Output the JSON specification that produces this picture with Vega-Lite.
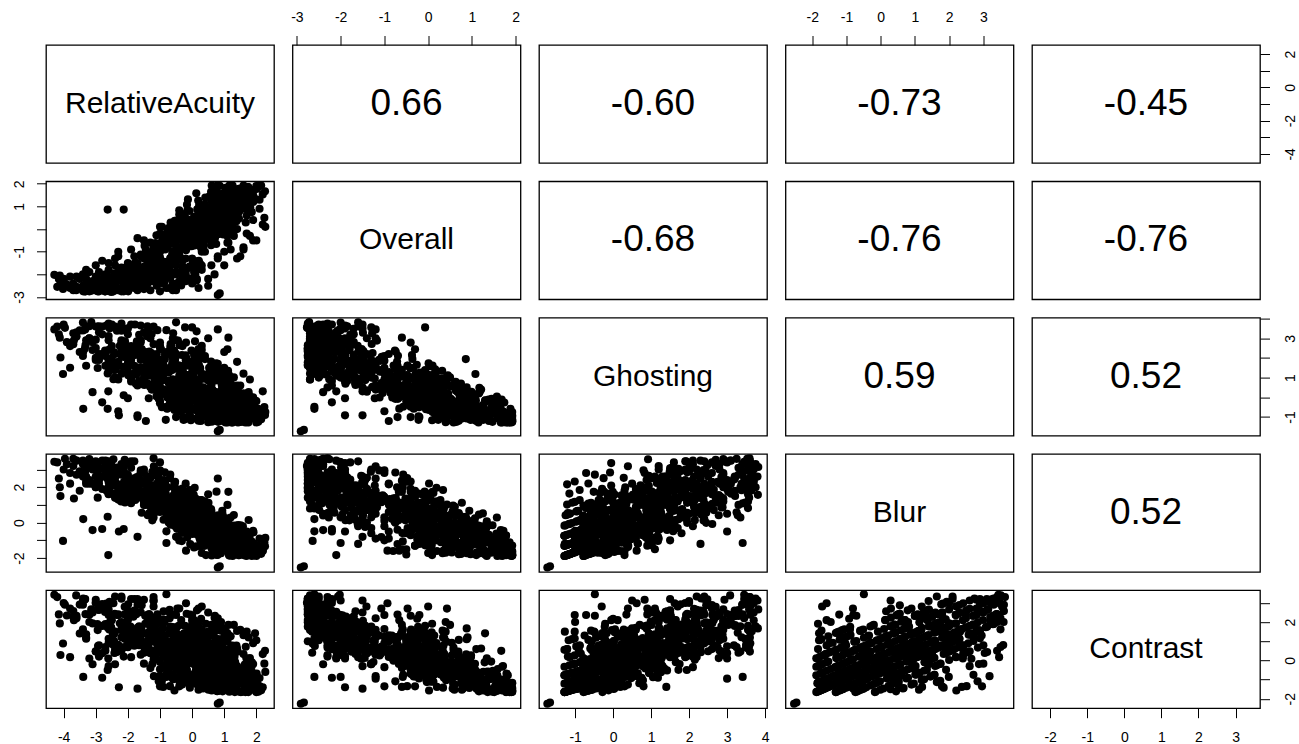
{
"$schema": "https://vega.github.io/schema/vega-lite/v6.json",
"padding": {"left": 11, "top": 9, "right": 5, "bottom": 5},
"background": "white",
"config": {
 "view": {"stroke": "#000", "strokeWidth": 1.3},
 "font": "Liberation Sans",
 "axis": {"grid": false, "domain": false, "tickSize": 9.5, "tickColor": "#000", "tickWidth": 1, "labelFont": "Liberation Sans", "labelFontSize": 14, "labelColor": "#000", "labelOverlap": false, "labelFlush": false}
},
"datasets": {
"pts": [
{"A":2.0,"O":1.9,"G":-1.28,"B":-1.88,"C":-1.65},
{"A":1.26,"O":1.85,"G":-1.17,"B":-1.8,"C":-1.59},
{"A":1.63,"O":1.59,"G":-1.07,"B":-1.72,"C":-1.53},
{"A":0.86,"O":1.91,"G":-0.95,"B":-1.63,"C":-1.46},
{"A":1.9,"O":1.2,"G":-0.81,"B":-1.53,"C":-1.38},
{"A":1.14,"O":1.65,"G":-0.61,"B":-1.38,"C":-1.26},
{"A":1.81,"O":0.95,"G":-0.35,"B":-1.18,"C":-1.11},
{"A":0.54,"O":1.45,"G":-0.08,"B":-0.98,"C":-0.96},
{"A":1.02,"O":0.65,"G":0.32,"B":-0.68,"C":-0.73},
{"A":1.45,"O":1.78,"G":-1.23,"B":-1.84,"C":-1.62},
{"A":2.15,"O":1.92,"G":-1.12,"B":-1.76,"C":-1.56},
{"A":0.73,"O":0.15,"G":0.85,"B":-0.28,"C":-0.42},
{"A":1.75,"O":1.86,"G":-1.28,"B":-1.31,"C":-1.65},
{"A":0.61,"O":1.26,"G":-1.15,"B":-1.21,"C":-1.57},
{"A":1.73,"O":1.86,"G":-1.01,"B":-1.11,"C":-1.5},
{"A":0.82,"O":1.56,"G":-0.75,"B":-0.91,"C":-1.34},
{"A":1.29,"O":0.86,"G":-0.48,"B":-0.71,"C":-1.19},
{"A":-0.13,"O":1.31,"G":-0.15,"B":-0.46,"C":-1.0},
{"A":1.06,"O":0.46,"G":0.18,"B":-0.21,"C":-0.8},
{"A":1.6,"O":1.92,"G":-1.21,"B":-1.83,"C":-1.17},
{"A":1.61,"O":1.18,"G":-1.08,"B":-1.73,"C":-1.09},
{"A":0.66,"O":1.63,"G":-0.88,"B":-1.58,"C":-0.98},
{"A":1.77,"O":1.18,"G":-0.55,"B":-1.33,"C":-0.79},
{"A":0.77,"O":1.33,"G":-0.22,"B":-1.08,"C":-0.59},
{"A":0.82,"O":0.38,"G":0.12,"B":-0.83,"C":-0.4},
{"A":-0.31,"O":0.63,"G":0.58,"B":-0.48,"C":-0.13},
{"A":1.71,"O":1.61,"G":-0.78,"B":-1.31,"C":-1.21},
{"A":0.86,"O":0.99,"G":-0.62,"B":-1.19,"C":-1.12},
{"A":1.85,"O":1.56,"G":-0.45,"B":-1.06,"C":-1.02},
{"A":0.23,"O":0.56,"G":-0.18,"B":-0.86,"C":-0.86},
{"A":0.91,"O":0.71,"G":0.15,"B":-0.61,"C":-0.67},
{"A":-0.23,"O":0.51,"G":0.55,"B":-0.31,"C":-0.44},
{"A":0.45,"O":-0.29,"G":0.95,"B":-0.01,"C":-0.21},
{"A":1.43,"O":1.66,"G":-1.28,"B":-0.74,"C":-1.21},
{"A":1.5,"O":1.06,"G":-1.15,"B":-0.64,"C":-1.13},
{"A":0.19,"O":1.26,"G":-1.01,"B":-0.54,"C":-1.06},
{"A":0.98,"O":0.51,"G":-0.81,"B":-0.39,"C":-0.94},
{"A":0.41,"O":1.01,"G":-0.55,"B":-0.19,"C":-0.79},
{"A":0.76,"O":0.36,"G":-0.22,"B":0.06,"C":-0.59},
{"A":-0.32,"O":0.36,"G":0.18,"B":0.36,"C":-0.36},
{"A":1.3,"O":1.11,"G":-0.78,"B":-0.74,"C":-0.77},
{"A":0.16,"O":0.43,"G":-0.67,"B":-0.66,"C":-0.71},
{"A":0.98,"O":1.11,"G":-0.51,"B":-0.54,"C":-0.62},
{"A":1.02,"O":0.31,"G":-0.25,"B":-0.34,"C":-0.46},
{"A":-0.51,"O":0.36,"G":0.08,"B":-0.09,"C":-0.27},
{"A":0.24,"O":-0.29,"G":0.42,"B":0.16,"C":-0.08},
{"A":-0.53,"O":-0.14,"G":0.88,"B":0.51,"C":0.19},
{"A":1.23,"O":1.15,"G":-1.28,"B":-0.17,"C":-0.77},
{"A":0.11,"O":0.4,"G":-1.08,"B":-0.02,"C":-0.65},
{"A":1.12,"O":1.05,"G":-0.88,"B":0.13,"C":-0.54},
{"A":0.42,"O":0.15,"G":-0.61,"B":0.33,"C":-0.38},
{"A":-0.62,"O":0.2,"G":-0.28,"B":0.58,"C":-0.19},
{"A":0.0,"O":-0.55,"G":0.05,"B":0.83,"C":0.0},
{"A":1.04,"O":1.82,"G":-1.28,"B":-1.31,"C":-0.77},
{"A":1.67,"O":1.12,"G":-1.15,"B":-1.21,"C":-0.69},
{"A":1.05,"O":1.37,"G":-0.95,"B":-1.06,"C":-0.58},
{"A":1.46,"O":0.47,"G":-0.68,"B":-0.86,"C":-0.42},
{"A":0.16,"O":0.87,"G":-0.42,"B":-0.66,"C":-0.27},
{"A":0.7,"O":0.52,"G":-0.08,"B":-0.41,"C":-0.08},
{"A":1.86,"O":1.58,"G":-0.78,"B":-1.88,"C":-0.77},
{"A":0.88,"O":0.93,"G":-0.58,"B":-1.73,"C":-0.65},
{"A":1.85,"O":1.48,"G":-0.38,"B":-1.58,"C":-0.54},
{"A":0.28,"O":0.73,"G":-0.05,"B":-1.33,"C":-0.35},
{"A":1.16,"O":0.63,"G":0.35,"B":-1.03,"C":-0.12},
{"A":0.34,"O":0.89,"G":-0.78,"B":-0.74,"C":-0.33},
{"A":1.18,"O":0.27,"G":-0.62,"B":-0.62,"C":-0.24},
{"A":0.44,"O":0.79,"G":-0.38,"B":-0.44,"C":-0.1},
{"A":0.57,"O":-0.01,"G":-0.11,"B":-0.24,"C":0.06},
{"A":-0.57,"O":0.04,"G":0.22,"B":0.01,"C":0.25},
{"A":0.14,"O":-0.66,"G":0.62,"B":0.31,"C":0.48},
{"A":-0.93,"O":-0.51,"G":1.08,"B":0.66,"C":0.75},
{"A":0.9,"O":0.48,"G":-0.28,"B":-0.17,"C":-0.33},
{"A":-0.2,"O":-0.32,"G":-0.15,"B":-0.07,"C":-0.25},
{"A":0.71,"O":0.03,"G":0.05,"B":0.08,"C":-0.14},
{"A":-0.59,"O":-0.57,"G":0.32,"B":0.28,"C":0.02},
{"A":-0.03,"O":-0.52,"G":0.65,"B":0.53,"C":0.21},
{"A":-1.14,"O":-0.62,"G":1.05,"B":0.83,"C":0.44},
{"A":-0.62,"O":-1.52,"G":1.72,"B":1.33,"C":0.83},
{"A":0.56,"O":0.32,"G":-0.78,"B":0.4,"C":-0.33},
{"A":0.07,"O":-0.33,"G":-0.58,"B":0.55,"C":-0.21},
{"A":-0.63,"O":0.07,"G":-0.31,"B":0.75,"C":-0.06},
{"A":-0.14,"O":-0.48,"G":0.02,"B":1.0,"C":0.13},
{"A":-0.41,"O":-1.08,"G":0.42,"B":1.3,"C":0.36},
{"A":0.26,"O":-0.12,"G":-0.28,"B":0.4,"C":0.11},
{"A":-0.77,"O":-0.82,"G":-0.01,"B":0.6,"C":0.26},
{"A":0.13,"O":-0.67,"G":0.32,"B":0.85,"C":0.46},
{"A":-1.08,"O":-1.07,"G":0.72,"B":1.15,"C":0.69},
{"A":-1.02,"O":-1.82,"G":1.18,"B":1.5,"C":0.96},
{"A":-1.92,"O":-1.82,"G":1.85,"B":2.0,"C":1.34},
{"A":0.15,"O":-0.31,"G":-0.28,"B":0.97,"C":0.11},
{"A":-0.51,"O":-1.11,"G":-0.01,"B":1.17,"C":0.26},
{"A":-1.26,"O":-1.01,"G":0.39,"B":1.47,"C":0.5},
{"A":-0.97,"O":-1.66,"G":0.85,"B":1.82,"C":0.76},
{"A":-0.18,"O":-0.86,"G":0.22,"B":0.97,"C":0.55},
{"A":-1.49,"O":-1.66,"G":0.62,"B":1.27,"C":0.78},
{"A":-0.92,"O":-1.46,"G":1.02,"B":1.57,"C":1.01},
{"A":-2.15,"O":-2.06,"G":1.55,"B":1.97,"C":1.32},
{"A":-1.58,"O":-2.36,"G":2.08,"B":2.37,"C":1.63},
{"A":-0.58,"O":-1.04,"G":0.22,"B":1.54,"C":0.55},
{"A":-1.75,"O":-1.89,"G":0.69,"B":1.89,"C":0.82},
{"A":-1.08,"O":-1.94,"G":1.15,"B":2.24,"C":1.09},
{"A":-2.47,"O":-2.44,"G":1.68,"B":2.64,"C":1.4},
{"A":-1.4,"O":-1.58,"G":0.72,"B":1.54,"C":0.99},
{"A":-1.09,"O":-2.08,"G":1.25,"B":1.94,"C":1.3},
{"A":-2.58,"O":-2.58,"G":1.78,"B":2.34,"C":1.61},
{"A":-2.55,"O":-2.75,"G":2.45,"B":2.84,"C":1.99},
{"A":-1.19,"O":-1.67,"G":0.72,"B":2.11,"C":0.99},
{"A":-2.43,"O":-2.47,"G":1.39,"B":2.61,"C":1.38},
{"A":-2.13,"O":-2.75,"G":2.05,"B":3.11,"C":1.76},
{"A":-2.94,"O":-2.7,"G":1.49,"B":2.88,"C":1.58},
{"A":-2.95,"O":-2.6,"G":2.02,"B":3.28,"C":1.89},
{"A":0.6,"O":0.45,"G":1.11,"B":-0.08,"C":-0.26},
{"A":-0.29,"O":-0.07,"G":1.38,"B":0.12,"C":0.33},
{"A":-0.32,"O":-0.37,"G":2.15,"B":0.89,"C":0.04},
{"A":-1.36,"O":-1.06,"G":2.05,"B":1.19,"C":0.72},
{"A":-0.44,"O":-1.17,"G":2.88,"B":0.87,"C":1.35},
{"A":-2.02,"O":-1.96,"G":2.58,"B":2.16,"C":1.46},
{"A":-1.0,"O":-1.73,"G":2.78,"B":1.56,"C":1.44},
{"A":-2.09,"O":-1.71,"G":3.48,"B":1.14,"C":1.12},
{"A":-1.65,"O":-1.78,"G":3.18,"B":2.43,"C":0.79},
{"A":-1.92,"O":-1.98,"G":2.08,"B":1.41,"C":1.77},
{"A":-0.02,"O":-0.76,"G":2.38,"B":0.12,"C":1.21},
{"A":-2.12,"O":-2.01,"G":2.75,"B":2.3,"C":0.69},
{"A":-2.6,"O":-2.51,"G":3.11,"B":1.63,"C":1.94},
{"A":-2.94,"O":-2.75,"G":3.58,"B":1.41,"C":2.65},
{"A":-2.71,"O":-2.75,"G":2.38,"B":2.97,"C":2.53},
{"A":-3.34,"O":-2.75,"G":2.48,"B":3.24,"C":3.18},
{"A":-3.61,"O":-2.7,"G":3.08,"B":3.51,"C":3.39},
{"A":-3.14,"O":-2.72,"G":3.82,"B":3.14,"C":2.66},
{"A":-4.29,"O":-2.02,"G":3.45,"B":3.44,"C":3.42},
{"A":-3.96,"O":-2.4,"G":3.53,"B":3.6,"C":2.9},
{"A":-4.15,"O":-2.2,"G":3.2,"B":2.49,"C":2.4},
{"A":-4.12,"O":-2.05,"G":3.03,"B":2.0,"C":1.93},
{"A":-4.1,"O":-2.3,"G":2.02,"B":1.5,"C":0.28},
{"A":-4.02,"O":-2.64,"G":1.18,"B":-1.03,"C":0.88},
{"A":-3.68,"O":-2.5,"G":2.9,"B":1.36,"C":2.1},
{"A":-3.33,"O":-2.7,"G":3.45,"B":2.9,"C":3.2},
{"A":-3.39,"O":-2.6,"G":-0.59,"B":0.2,"C":-0.86},
{"A":-3.1,"O":-2.4,"G":0.26,"B":-0.42,"C":-0.2},
{"A":-2.8,"O":-2.2,"G":-0.26,"B":-0.36,"C":-0.9},
{"A":-2.61,"O":-2.1,"G":0.3,"B":-1.83,"C":0.1},
{"A":-2.28,"O":-1.9,"G":-0.92,"B":-0.5,"C":-1.4},
{"A":-1.7,"O":-1.5,"G":-0.92,"B":-0.8,"C":-1.47},
{"A":-2.63,"O":0.86,"G":-0.59,"B":0.33,"C":-0.5},
{"A":-2.13,"O":0.86,"G":0.1,"B":-0.36,"C":0.2},
{"A":0.8,"O":-2.91,"G":-1.73,"B":-2.53,"C":-2.26},
{"A":0.86,"O":-2.84,"G":-1.66,"B":-2.46,"C":-2.19},
{"A":0.8,"O":-1.2,"G":3.45,"B":2.49,"C":2.2},
{"A":1.13,"O":-0.6,"G":3.03,"B":1.74,"C":1.85},
{"A":1.1,"O":-0.3,"G":2.44,"B":1.0,"C":1.41},
{"A":2.28,"O":0.1,"G":-0.75,"B":-0.86,"C":-0.6},
{"A":2.27,"O":1.67,"G":-0.9,"B":-1.33,"C":0.5},
{"A":1.96,"O":1.3,"G":-0.17,"B":-1.8,"C":1.41},
{"A":1.76,"O":0.9,"G":0.26,"B":0.15,"C":1.2},
{"A":1.3,"O":0.5,"G":1.01,"B":0.43,"C":1.85},
{"A":1.5,"O":1.64,"G":-0.84,"B":-1.5,"C":-1.2},
{"A":0.9,"O":1.08,"G":1.18,"B":-0.4,"C":-0.9},
{"A":0.4,"O":0.86,"G":1.94,"B":0.2,"C":-0.5},
{"A":0.6,"O":1.25,"G":-0.4,"B":0.52,"C":-1.3},
{"A":1.2,"O":1.57,"G":-0.8,"B":0.29,"C":-1.5},
{"A":1.9,"O":1.72,"G":-1.0,"B":-0.46,"C":-1.0},
{"A":1.4,"O":1.21,"G":-0.6,"B":-1.1,"C":0.62},
{"A":1.0,"O":0.88,"G":0.5,"B":-0.9,"C":1.67},
{"A":0.2,"O":0.43,"G":0.9,"B":0.3,"C":2.7},
{"A":-0.4,"O":-0.47,"G":1.1,"B":0.9,"C":2.7},
{"A":-1.2,"O":-1.41,"G":1.7,"B":1.2,"C":2.81},
{"A":-2.2,"O":-2.06,"G":2.4,"B":2.1,"C":3.33},
{"A":-1.6,"O":-1.12,"G":1.9,"B":2.95,"C":1.3},
{"A":-1.0,"O":-1.78,"G":2.6,"B":3.4,"C":2.0},
{"A":-0.53,"O":-0.47,"G":1.6,"B":2.31,"C":0.8},
{"A":0.08,"O":0.19,"G":1.3,"B":1.97,"C":0.9},
{"A":-0.22,"O":-0.07,"G":3.55,"B":1.6,"C":1.8},
{"A":-1.78,"O":-1.5,"G":3.7,"B":2.3,"C":2.5},
{"A":-2.5,"O":-2.77,"G":3.55,"B":3.2,"C":3.0},
{"A":-1.2,"O":-2.3,"G":3.59,"B":3.63,"C":3.3},
{"A":-0.5,"O":-1.6,"G":3.81,"B":1.57,"C":1.67},
{"A":0.0,"O":-1.3,"G":3.55,"B":0.82,"C":0.62},
{"A":-0.8,"O":-2.0,"G":3.41,"B":-1.15,"C":-0.86},
{"A":-0.6,"O":-1.2,"G":3.0,"B":0.5,"C":-0.95},
{"A":0.2,"O":0.7,"G":-1.19,"B":0.54,"C":0.2},
{"A":-1.7,"O":-0.4,"G":-1.01,"B":2.32,"C":1.5},
{"A":-2.3,"O":-1.0,"G":-0.71,"B":2.8,"C":2.37},
{"A":-2.0,"O":-1.9,"G":-0.05,"B":3.36,"C":2.1},
{"A":-1.5,"O":-2.2,"G":0.83,"B":2.8,"C":3.16},
{"A":-2.6,"O":-2.4,"G":1.92,"B":3.46,"C":2.37},
{"A":-1.8,"O":-2.6,"G":2.4,"B":3.46,"C":3.2},
{"A":-3.0,"O":-2.7,"G":2.93,"B":3.46,"C":3.16},
{"A":-0.8,"O":-2.6,"G":-0.48,"B":-0.49,"C":3.45},
{"A":0.5,"O":0.4,"G":-1.27,"B":-1.2,"C":1.5},
{"A":-0.5,"O":-0.2,"G":-1.01,"B":-0.8,"C":2.37},
{"A":0.3,"O":0.0,"G":-0.3,"B":-1.71,"C":2.81},
{"A":0.9,"O":0.4,"G":-1.0,"B":-1.46,"C":2.0},
{"A":-1.2,"O":-1.5,"G":0.5,"B":0.29,"C":3.12},
{"A":-2.4,"O":-2.5,"G":2.2,"B":1.64,"C":3.33},
{"A":-1.7,"O":-2.2,"G":1.5,"B":2.1,"C":3.2},
{"A":-3.2,"O":-2.6,"G":2.9,"B":3.59,"C":2.0},
{"A":-2.7,"O":-2.1,"G":2.3,"B":3.5,"C":0.7},
{"A":-1.9,"O":-1.6,"G":1.9,"B":3.46,"C":0.17},
{"A":-1.5,"O":-1.3,"G":1.2,"B":3.0,"C":-0.17},
{"A":-1.0,"O":-1.0,"G":0.8,"B":2.96,"C":-1.35},
{"A":-0.9,"O":-0.6,"G":1.4,"B":2.37,"C":-1.38},
{"A":-0.4,"O":-0.3,"G":0.3,"B":1.79,"C":-1.35},
{"A":0.4,"O":0.2,"G":-0.2,"B":1.21,"C":-1.38},
{"A":1.16,"O":1.92,"G":-0.75,"B":-1.86,"C":-1.63},
{"A":1.81,"O":1.44,"G":-0.54,"B":-1.7,"C":-1.51},
{"A":1.18,"O":1.74,"G":-0.27,"B":-1.5,"C":-1.36},
{"A":1.48,"O":0.82,"G":0.02,"B":-1.28,"C":-1.19},
{"A":1.52,"O":1.51,"G":-0.28,"B":-1.31,"C":-1.65},
{"A":0.48,"O":0.79,"G":0.01,"B":-1.09,"C":-1.48},
{"A":1.42,"O":1.21,"G":0.39,"B":-0.81,"C":-1.26},
{"A":0.11,"O":0.41,"G":0.78,"B":-0.51,"C":-1.03},
{"A":1.66,"O":1.78,"G":-1.28,"B":-0.74,"C":-1.65},
{"A":0.69,"O":1.14,"G":-1.09,"B":-0.6,"C":-1.54},
{"A":1.34,"O":1.66,"G":-0.85,"B":-0.42,"C":-1.4},
{"A":-0.08,"O":0.8,"G":-0.51,"B":-0.16,"C":-1.2},
{"A":0.61,"O":0.76,"G":-0.06,"B":0.18,"C":-0.94},
{"A":1.33,"O":1.36,"G":-0.78,"B":-0.17,"C":-1.65},
{"A":0.2,"O":0.6,"G":-0.57,"B":-0.01,"C":-1.53},
{"A":0.74,"O":0.86,"G":-0.25,"B":0.23,"C":-1.34},
{"A":-0.39,"O":0.06,"G":0.15,"B":0.53,"C":-1.11},
{"A":0.95,"O":1.16,"G":-1.21,"B":0.45,"C":-1.61},
{"A":0.34,"O":0.56,"G":-0.95,"B":0.65,"C":-1.46},
{"A":-0.31,"O":0.61,"G":-0.61,"B":0.9,"C":-1.26},
{"A":0.37,"O":0.57,"G":-0.78,"B":0.97,"C":-1.21},
{"A":-0.58,"O":-0.03,"G":-0.38,"B":1.27,"C":-0.98},
{"A":-0.3,"O":-0.13,"G":0.02,"B":1.57,"C":-0.75},
{"A":-0.38,"O":-0.03,"G":-0.15,"B":1.64,"C":-1.13},
{"A":-0.56,"O":-0.58,"G":0.32,"B":1.99,"C":-0.86},
{"A":-0.55,"O":0.02,"G":-0.65,"B":2.21,"C":-1.57},
{"A":-0.69,"O":-0.48,"G":-0.25,"B":2.51,"C":-1.34},
{"A":-1.04,"O":-0.75,"G":-0.08,"B":2.83,"C":-1.09},
{"A":-1.19,"O":-1.2,"G":0.39,"B":3.18,"C":-0.82},
{"A":1.26,"O":1.69,"G":-1.28,"B":-1.88,"C":-0.33},
{"A":1.64,"O":0.94,"G":-1.08,"B":-1.73,"C":-0.21},
{"A":0.77,"O":1.44,"G":-0.81,"B":-1.53,"C":-0.06},
{"A":1.1,"O":0.69,"G":-0.48,"B":-1.28,"C":0.13},
{"A":1.69,"O":1.34,"G":-0.78,"B":-1.88,"C":0.11},
{"A":0.63,"O":0.54,"G":-0.51,"B":-1.68,"C":0.26},
{"A":1.42,"O":0.69,"G":-0.18,"B":-1.43,"C":0.46},
{"A":1.15,"O":1.1,"G":-1.21,"B":-1.83,"C":0.59},
{"A":1.38,"O":0.35,"G":-0.88,"B":-1.58,"C":0.78},
{"A":0.74,"O":0.7,"G":-0.65,"B":-1.78,"C":1.07},
{"A":1.2,"O":0.05,"G":-0.31,"B":-1.53,"C":1.26},
{"A":0.39,"O":0.07,"G":-0.28,"B":-1.31,"C":1.43},
{"A":0.65,"O":-0.58,"G":0.05,"B":-1.06,"C":1.62},
{"A":0.43,"O":0.09,"G":-0.21,"B":-1.83,"C":1.91},
{"A":0.75,"O":-0.66,"G":0.12,"B":-1.58,"C":2.1},
{"A":-0.06,"O":-0.7,"G":0.35,"B":-1.21,"C":2.39},
{"A":0.91,"O":0.33,"G":-0.28,"B":-0.74,"C":0.55},
{"A":-0.15,"O":-0.47,"G":-0.01,"B":-0.54,"C":0.7},
{"A":0.64,"O":-0.32,"G":0.32,"B":-0.29,"C":0.9},
{"A":-0.5,"O":-0.77,"G":0.78,"B":0.06,"C":1.17},
{"A":0.83,"O":0.38,"G":-0.78,"B":-0.17,"C":0.11},
{"A":-0.17,"O":-0.22,"G":-0.51,"B":0.03,"C":0.26},
{"A":0.3,"O":0.08,"G":-0.25,"B":0.23,"C":0.42},
{"A":0.07,"O":-0.72,"G":0.15,"B":0.53,"C":0.65},
{"A":-0.17,"O":-0.33,"G":-0.21,"B":-0.12,"C":1.03},
{"A":0.28,"O":-0.68,"G":0.12,"B":0.13,"C":1.22},
{"A":-0.68,"O":-1.28,"G":0.52,"B":0.43,"C":1.45},
{"A":0.1,"O":-0.47,"G":0.22,"B":0.4,"C":0.55},
{"A":-0.38,"O":-1.22,"G":0.55,"B":0.65,"C":0.74},
{"A":-1.16,"O":-1.22,"G":0.95,"B":0.95,"C":0.97},
{"A":-0.86,"O":-1.72,"G":1.48,"B":1.35,"C":1.28},
{"A":-1.09,"O":-1.4,"G":0.35,"B":1.07,"C":1.51},
{"A":-1.65,"O":-1.85,"G":0.82,"B":1.42,"C":1.78},
{"A":-1.38,"O":-2.4,"G":1.42,"B":1.87,"C":2.12},
{"A":-1.14,"O":-1.65,"G":0.99,"B":0.6,"C":2.02},
{"A":-1.46,"O":-2.25,"G":1.52,"B":1.0,"C":2.33},
{"A":-0.01,"O":-0.59,"G":0.42,"B":-0.59,"C":1.55},
{"A":0.02,"O":-1.44,"G":0.89,"B":-0.24,"C":1.82},
{"A":-1.24,"O":-1.8,"G":1.62,"B":0.13,"C":2.1},
{"A":-1.34,"O":-2.3,"G":2.15,"B":0.53,"C":2.41},
{"A":-1.99,"O":-2.46,"G":1.12,"B":1.27,"C":2.54},
{"A":-1.99,"O":-2.75,"G":1.78,"B":1.77,"C":2.93},
{"A":-2.45,"O":-2.75,"G":1.62,"B":2.41,"C":2.98},
{"A":-3.32,"O":-2.75,"G":2.65,"B":3.38,"C":2.41},
{"A":-3.39,"O":-2.75,"G":2.32,"B":2.74,"C":3.23},
{"A":-2.93,"O":-2.59,"G":3.58,"B":2.37,"C":0.75},
{"A":-3.2,"O":-2.75,"G":3.61,"B":2.2,"C":2.38},
{"A":-2.57,"O":-2.75,"G":3.51,"B":1.93,"C":3.05},
{"A":-0.56,"O":-1.48,"G":2.35,"B":0.86,"C":1.34},
{"A":0.25,"O":-0.75,"G":1.45,"B":-0.01,"C":0.67},
{"A":-0.63,"O":-0.41,"G":1.48,"B":0.39,"C":0.54},
{"A":0.54,"O":-0.1,"G":1.22,"B":-0.38,"C":-0.05},
{"A":-1.19,"O":-0.69,"G":2.11,"B":1.06,"C":0.18},
{"A":-0.36,"O":-0.88,"G":1.22,"B":1.33,"C":0.39},
{"A":-0.19,"O":-0.4,"G":2.78,"B":0.42,"C":0.12},
{"A":-1.48,"O":-0.74,"G":2.31,"B":1.39,"C":0.43},
{"A":-0.67,"O":-1.29,"G":2.71,"B":1.12,"C":1.54},
{"A":-1.39,"O":-1.85,"G":3.61,"B":2.56,"C":0.89},
{"A":-2.34,"O":-2.3,"G":3.38,"B":2.19,"C":2.37},
{"A":-2.67,"O":-2.53,"G":3.64,"B":1.82,"C":2.96},
{"A":0.14,"O":0.29,"G":0.32,"B":1.03,"C":-0.73},
{"A":-0.76,"O":-0.71,"G":0.85,"B":2.0,"C":0.02},
{"A":-1.24,"O":-1.31,"G":1.75,"B":2.87,"C":-0.19},
{"A":-2.42,"O":-1.95,"G":1.72,"B":3.04,"C":0.39},
{"A":-2.34,"O":-1.99,"G":1.55,"B":3.11,"C":0.44},
{"A":-2.45,"O":-2.26,"G":0.92,"B":3.58,"C":0.8},
{"A":-0.07,"O":0.34,"G":-0.88,"B":1.84,"C":-1.42},
{"A":-0.68,"O":-0.57,"G":-0.48,"B":2.71,"C":-0.75},
{"A":0.8,"O":1.92,"G":-0.99,"B":-1.66,"C":-1.48},
{"A":1.46,"O":0.77,"G":0.22,"B":-1.13,"C":-1.07},
{"A":1.46,"O":1.65,"G":-0.71,"B":-1.83,"C":-1.17},
{"A":1.63,"O":0.9,"G":0.09,"B":-1.6,"C":-0.99},
{"A":1.51,"O":1.79,"G":-1.21,"B":-1.26,"C":-1.17},
{"A":0.41,"O":1.39,"G":-0.84,"B":-0.98,"C":-0.96},
{"A":1.3,"O":0.97,"G":-0.15,"B":-1.21,"C":-0.69},
{"A":1.07,"O":0.17,"G":-0.11,"B":-0.81,"C":0.06},
{"A":0.76,"O":0.98,"G":-1.01,"B":-1.11,"C":0.26},
{"A":0.85,"O":-0.07,"G":0.02,"B":-0.71,"C":1.01},
{"A":1.35,"O":1.1,"G":-0.45,"B":-0.49,"C":-1.46},
{"A":0.39,"O":0.13,"G":0.15,"B":-0.04,"C":-0.67},
{"A":0.63,"O":1.39,"G":-1.21,"B":-0.69,"C":-0.73},
{"A":-0.16,"O":0.44,"G":0.19,"B":-0.39,"C":-0.5},
{"A":1.19,"O":0.92,"G":-1.01,"B":-0.54,"C":-0.18},
{"A":0.01,"O":0.15,"G":-0.15,"B":-0.64,"C":0.19},
{"A":1.04,"O":1.07,"G":-1.15,"B":-0.07,"C":-1.13},
{"A":0.34,"O":-0.01,"G":-0.18,"B":0.28,"C":-0.86},
{"A":-0.29,"O":0.35,"G":0.05,"B":0.08,"C":-0.58},
{"A":0.43,"O":0.03,"G":-0.48,"B":0.43,"C":0.13},
{"A":-0.06,"O":-0.09,"G":-0.08,"B":-0.02,"C":0.23},
{"A":0.52,"O":-0.29,"G":-0.31,"B":0.18,"C":0.82},
{"A":-0.26,"O":0.34,"G":-0.51,"B":0.6,"C":-0.62},
{"A":0.19,"O":-0.05,"G":-0.61,"B":0.9,"C":0.06},
{"A":0.03,"O":-0.21,"G":0.19,"B":0.75,"C":-0.94},
{"A":-0.27,"O":0.23,"G":-1.15,"B":0.5,"C":0.19},
{"A":0.1,"O":0.15,"G":-0.65,"B":1.07,"C":-0.69},
{"A":-0.34,"O":-0.79,"G":0.25,"B":1.37,"C":-0.02},
{"A":-0.78,"O":-0.66,"G":-0.58,"B":1.12,"C":0.67},
{"A":-0.53,"O":-0.67,"G":-0.01,"B":1.74,"C":-0.18},
{"A":-1.35,"O":-1.22,"G":-0.05,"B":2.09,"C":0.53},
{"A":2.01,"O":1.79,"G":-1.12,"B":-1.76,"C":-0.68},
{"A":0.25,"O":0.36,"G":0.42,"B":-0.98,"C":0.36},
{"A":1.1,"O":0.0,"G":0.65,"B":-1.18,"C":1.09},
{"A":0.39,"O":0.14,"G":-0.75,"B":-0.91,"C":1.3},
{"A":-0.38,"O":-0.47,"G":1.05,"B":-0.31,"C":0.88},
{"A":0.48,"O":-0.12,"G":-0.45,"B":-0.49,"C":1.18},
{"A":-0.72,"O":-0.62,"G":0.18,"B":0.36,"C":1.4},
{"A":-0.86,"O":-1.91,"G":1.95,"B":1.13,"C":1.99},
{"A":-1.83,"O":-1.88,"G":1.18,"B":1.5,"C":2.28},
{"A":-0.89,"O":-1.66,"G":1.42,"B":0.16,"C":2.56},
{"A":-0.46,"O":-1.07,"G":0.39,"B":-0.81,"C":2.7},
{"A":-0.19,"O":-0.93,"G":0.62,"B":-1.58,"C":2.98},
{"A":0.9,"O":0.33,"G":-0.58,"B":-1.73,"C":1.55},
{"A":0.71,"O":-0.4,"G":-0.48,"B":-0.71,"C":2.33},
{"A":-2.5,"O":-2.2,"G":2.6,"B":2.2,"C":1.1},
{"A":-2.8,"O":-2.5,"G":3.2,"B":2.6,"C":1.8},
{"A":-3.1,"O":-2.6,"G":2.8,"B":3.0,"C":2.5},
{"A":-2.2,"O":-1.9,"G":2.1,"B":1.9,"C":0.6},
{"A":-3.4,"O":-2.7,"G":3.4,"B":3.3,"C":2.9},
{"A":-2.9,"O":-2.3,"G":1.9,"B":2.4,"C":0.2},
{"A":-2.4,"O":-2.65,"G":3.6,"B":2.9,"C":1.5},
{"A":-3.6,"O":-2.55,"G":3.1,"B":3.5,"C":2.2},
{"A":-2.0,"O":-2.0,"G":1.5,"B":2.7,"C":1.3},
{"A":-1.8,"O":-2.4,"G":2.3,"B":2.5,"C":2.6},
{"A":-2.6,"O":-1.8,"G":2.4,"B":1.6,"C":0.9},
{"A":-3.0,"O":-2.7,"G":2.0,"B":2.0,"C":3.0},
{"A":-3.3,"O":-2.4,"G":3.6,"B":2.2,"C":1.2},
{"A":-2.2,"O":-2.6,"G":1.2,"B":3.2,"C":2.0},
{"A":-1.6,"O":-2.1,"G":2.9,"B":2.8,"C":1.6},
{"A":-2.7,"O":-2.0,"G":1.6,"B":3.4,"C":0.5},
{"A":-3.8,"O":-2.6,"G":2.6,"B":2.8,"C":2.7},
{"A":-1.4,"O":-1.7,"G":3.2,"B":1.8,"C":2.3},
{"A":-2.3,"O":-2.7,"G":0.9,"B":1.3,"C":2.4},
{"A":-1.9,"O":-2.5,"G":3.7,"B":3.1,"C":3.2},
{"A":-3.5,"O":-2.2,"G":2.3,"B":1.8,"C":1.4},
{"A":-2.6,"O":-1.5,"G":1.3,"B":2.6,"C":-0.3},
{"A":-1.2,"O":-2.3,"G":2.0,"B":1.4,"C":3.1},
{"A":-3.2,"O":-1.9,"G":3.0,"B":2.4,"C":0.1},
{"A":-2.1,"O":-2.45,"G":2.7,"B":3.55,"C":2.8},
{"A":-0.5,"O":-2.7,"G":1.6,"B":1.2,"C":1.7},
{"A":0.2,"O":-2.6,"G":2.2,"B":0.8,"C":2.0},
{"A":-1.0,"O":-2.75,"G":2.5,"B":2.0,"C":1.0},
{"A":0.5,"O":-2.5,"G":1.0,"B":1.6,"C":2.5},
{"A":-1.5,"O":-2.65,"G":3.3,"B":1.0,"C":0.4},
{"A":-0.2,"O":-2.3,"G":0.5,"B":2.2,"C":1.4},
{"A":1.5,"O":-1.2,"G":0.6,"B":-0.9,"C":1.6},
{"A":1.9,"O":-0.5,"G":0.0,"B":-1.5,"C":0.9},
{"A":1.2,"O":-0.9,"G":0.9,"B":-0.5,"C":0.5},
{"A":1.7,"O":-0.2,"G":-0.5,"B":-1.2,"C":1.5},
{"A":-1.6,"O":-1.2,"G":1.4,"B":1.5,"C":0.3},
{"A":-1.9,"O":-0.9,"G":0.8,"B":1.1,"C":1.0},
{"A":-1.3,"O":-0.6,"G":1.1,"B":0.9,"C":-0.4},
{"A":-1.1,"O":-1.5,"G":2.2,"B":1.7,"C":1.9},
{"A":-0.9,"O":-0.3,"G":0.4,"B":0.7,"C":0.2},
{"A":-1.4,"O":-2.0,"G":1.8,"B":2.3,"C":0.7},
{"A":-0.7,"O":-1.8,"G":1.5,"B":1.2,"C":2.2},
{"A":-1.7,"O":-2.2,"G":0.6,"B":1.9,"C":1.7},
{"A":-2.4,"O":-1.3,"G":1.0,"B":1.4,"C":-0.2},
{"A":-1.0,"O":0.1,"G":-0.2,"B":0.6,"C":-0.8},
{"A":0.79,"O":1.92,"G":-1.2,"B":-1.82,"C":-1.6},
{"A":2.02,"O":1.78,"G":-1.15,"B":-1.78,"C":-1.13},
{"A":1.16,"O":1.11,"G":-1.01,"B":-1.68,"C":-0.62},
{"A":1.86,"O":1.29,"G":-0.88,"B":-1.58,"C":-0.1},
{"A":0.78,"O":0.97,"G":-1.15,"B":-1.78,"C":0.19},
{"A":1.7,"O":1.62,"G":-0.38,"B":-1.58,"C":-1.42},
{"A":0.6,"O":0.95,"G":-0.18,"B":-1.43,"C":-0.86},
{"A":1.7,"O":1.03,"G":0.08,"B":-1.23,"C":-0.27},
{"A":1.15,"O":1.68,"G":-0.12,"B":-1.76,"C":-1.56},
{"A":1.15,"O":0.78,"G":0.39,"B":-1.38,"C":-0.82},
{"A":1.81,"O":1.66,"G":-0.88,"B":-1.01,"C":-1.42},
{"A":0.47,"O":0.96,"G":-0.61,"B":-0.81,"C":-1.26},
{"A":1.51,"O":1.76,"G":-1.04,"B":-1.13,"C":-1.07},
{"A":1.46,"O":1.02,"G":-0.75,"B":-0.91,"C":-0.46},
{"A":0.22,"O":1.06,"G":-0.05,"B":-0.76,"C":-0.79},
{"A":1.33,"O":1.07,"G":-0.51,"B":-1.11,"C":-0.18},
{"A":1.71,"O":1.16,"G":0.19,"B":-0.96,"C":-1.38},
{"A":0.96,"O":1.33,"G":-0.68,"B":-0.29,"C":-1.3},
{"A":1.43,"O":0.86,"G":-0.48,"B":-0.14,"C":-0.75},
{"A":0.8,"O":1.57,"G":-0.67,"B":-0.66,"C":-1.59},
{"A":1.37,"O":1.04,"G":-0.88,"B":-0.44,"C":-0.54},
{"A":1.12,"O":1.34,"G":-0.95,"B":0.08,"C":-1.46},
{"A":0.84,"O":0.62,"G":-0.55,"B":0.38,"C":-0.79},
{"A":1.76,"O":1.53,"G":-0.72,"B":-1.46,"C":-1.33},
{"A":0.59,"O":1.65,"G":-0.48,"B":-1.28,"C":-1.19},
{"A":1.75,"O":0.88,"G":-0.28,"B":-1.13,"C":-0.63},
{"A":1.08,"O":0.93,"G":0.15,"B":-0.61,"C":-1.11},
{"A":1.16,"O":1.17,"G":0.48,"B":-0.93,"C":-0.92},
{"A":1.61,"O":1.09,"G":-0.15,"B":-0.46,"C":-0.56},
{"A":1.34,"O":0.81,"G":-0.08,"B":-0.98,"C":-0.08},
{"A":2.06,"O":1.92,"G":-1.25,"B":-1.29,"C":-1.63},
{"A":1.91,"O":1.68,"G":-1.01,"B":-0.54,"C":-1.5},
{"A":1.26,"O":1.92,"G":-0.91,"B":-1.6,"C":-1.43},
{"A":0.77,"O":1.84,"G":-1.12,"B":-1.19,"C":-1.56},
{"A":1.77,"O":1.78,"G":-0.81,"B":-1.53,"C":-0.94},
{"A":2.06,"O":1.88,"G":-0.59,"B":-1.74,"C":-1.54},
{"A":1.34,"O":1.61,"G":-0.75,"B":-0.72,"C":-1.19},
{"A":1.87,"O":1.54,"G":-0.71,"B":-1.26,"C":-0.73},
{"A":1.67,"O":1.71,"G":-0.71,"B":-1.83,"C":-0.29},
{"A":1.43,"O":1.56,"G":-0.35,"B":-0.61,"C":-1.11},
{"A":-0.54,"O":0.36,"G":-0.05,"B":-0.19,"C":-0.35},
{"A":0.83,"O":-0.03,"G":-0.42,"B":-0.09,"C":0.17},
{"A":-0.25,"O":0.47,"G":-0.31,"B":0.18,"C":-0.5},
{"A":0.45,"O":-0.3,"G":0.28,"B":0.63,"C":0.29},
{"A":-0.09,"O":0.02,"G":-0.18,"B":-0.29,"C":0.46},
{"A":1.22,"O":-0.07,"G":0.65,"B":-0.61,"C":0.65},
{"A":0.21,"O":0.17,"G":-0.48,"B":1.0,"C":-0.31},
{"A":-0.08,"O":-0.69,"G":-0.08,"B":0.73,"C":0.8},
{"A":-0.73,"O":0.04,"G":0.72,"B":0.01,"C":-0.19},
{"A":0.58,"O":-0.25,"G":1.05,"B":-0.31,"C":0.44},
{"A":-0.67,"O":0.1,"G":0.52,"B":0.43,"C":-0.31},
{"A":0.37,"O":-0.43,"G":0.22,"B":1.15,"C":0.25},
{"A":0.22,"O":0.05,"G":-0.38,"B":-0.44,"C":0.78},
{"A":0.97,"O":-0.24,"G":0.45,"B":-0.76,"C":0.97},
{"A":-0.89,"O":-0.28,"G":1.18,"B":0.93,"C":-0.36},
{"A":0.48,"O":-0.37,"G":0.95,"B":0.56,"C":-0.21},
{"A":-0.37,"O":0.09,"G":0.82,"B":-0.11,"C":0.15},
{"A":1.0,"O":0.14,"G":1.18,"B":-0.78,"C":0.52},
{"A":0.53,"O":0.43,"G":1.05,"B":0.26,"C":-0.88},
{"A":-0.21,"O":-0.14,"G":0.95,"B":1.13,"C":-0.65},
{"A":0.53,"O":0.36,"G":-0.25,"B":0.8,"C":-0.9},
{"A":-0.42,"O":0.0,"G":-0.38,"B":0.7,"C":0.34},
{"A":0.27,"O":0.28,"G":-0.88,"B":1.27,"C":-0.54},
{"A":-0.77,"O":-0.44,"G":0.02,"B":0.43,"C":1.01},
{"A":0.55,"O":-0.39,"G":0.25,"B":-0.34,"C":1.3},
{"A":-0.07,"O":-0.39,"G":0.28,"B":-0.51,"C":1.61},
{"A":1.13,"O":-0.18,"G":0.55,"B":-0.88,"C":1.32},
{"A":1.07,"O":-0.07,"G":-0.48,"B":-1.28,"C":1.45},
{"A":-0.09,"O":-0.48,"G":0.92,"B":1.3,"C":-0.08},
{"A":-1.11,"O":-0.27,"G":0.05,"B":0.83,"C":0.44},
{"A":-0.21,"O":-0.37,"G":-0.11,"B":1.47,"C":0.06},
{"A":0.45,"O":-0.26,"G":1.15,"B":-0.04,"C":0.21},
{"A":0.81,"O":0.16,"G":1.42,"B":-0.41,"C":-0.52},
{"A":1.14,"O":0.43,"G":1.02,"B":-1.28,"C":-0.31},
{"A":-0.51,"O":0.09,"G":0.75,"B":0.23,"C":-0.9},
{"A":0.21,"O":-0.04,"G":0.78,"B":1.2,"C":-1.03},
{"A":-0.22,"O":0.12,"G":-0.35,"B":1.67,"C":-1.11},
{"A":-0.94,"O":0.1,"G":-0.51,"B":1.74,"C":-1.06},
{"A":0.6,"O":-0.26,"G":0.58,"B":0.66,"C":0.31},
{"A":-0.67,"O":-0.3,"G":0.85,"B":0.29,"C":0.9},
{"A":0.63,"O":0.1,"G":1.61,"B":-0.08,"C":0.18},
{"A":0.75,"O":0.01,"G":1.72,"B":0.19,"C":-0.49},
{"A":0.6,"O":0.06,"G":1.58,"B":-0.48,"C":0.31},
{"A":0.06,"O":-0.14,"G":0.98,"B":0.96,"C":0.1},
{"A":-0.28,"O":0.52,"G":-0.65,"B":-0.07,"C":-0.69},
{"A":0.77,"O":0.25,"G":-0.01,"B":-0.54,"C":0.26},
{"A":1.26,"O":0.16,"G":-0.88,"B":-1.01,"C":0.78},
{"A":0.12,"O":-0.06,"G":-0.02,"B":1.35,"C":-0.48},
{"A":0.35,"O":-0.34,"G":0.39,"B":0.33,"C":0.5},
{"A":-0.33,"O":-0.36,"G":0.52,"B":1.57,"C":-0.75},
{"A":-1.2,"O":-0.8,"G":0.6,"B":0.9,"C":0.05},
{"A":-0.8,"O":-0.4,"G":0.3,"B":0.5,"C":-0.7},
{"A":-1.5,"O":-0.5,"G":1.0,"B":1.2,"C":0.72},
{"A":-0.6,"O":-1.0,"G":0.9,"B":0.3,"C":0.91},
{"A":-1.0,"O":-0.2,"G":-0.3,"B":0.8,"C":-0.46},
{"A":-1.3,"O":-1.1,"G":1.3,"B":1.5,"C":0.52},
{"A":-0.4,"O":-0.9,"G":0.5,"B":0.6,"C":1.14},
{"A":-1.8,"O":-1.2,"G":1.6,"B":1.8,"C":1.19},
{"A":-0.2,"O":-1.3,"G":1.9,"B":0.3,"C":0.47},
{"A":0.3,"O":-1.0,"G":1.2,"B":0.1,"C":1.64},
{"A":-1.1,"O":-1.6,"G":1.4,"B":1.1,"C":1.53},
{"A":-0.5,"O":-1.9,"G":2.1,"B":1.3,"C":1.24},
{"A":0.0,"O":-1.7,"G":1.1,"B":0.7,"C":2.1},
{"A":-0.3,"O":-2.2,"G":2.6,"B":1.6,"C":0.59},
{"A":0.6,"O":-1.6,"G":0.7,"B":-0.2,"C":1.85},
{"A":-0.9,"O":-2.4,"G":1.9,"B":1.9,"C":2.14},
{"A":0.1,"O":-2.0,"G":1.4,"B":1.0,"C":1.45},
{"A":-1.6,"O":-2.5,"G":2.8,"B":2.2,"C":1.05},
{"A":-0.7,"O":-2.6,"G":2.2,"B":1.4,"C":2.64},
{"A":-1.3,"O":-2.7,"G":1.7,"B":2.5,"C":1.73},
{"A":-2.2,"O":-2.3,"G":2.9,"B":2.7,"C":1.88},
{"A":-2.9,"O":-2.5,"G":3.3,"B":3.1,"C":2.63},
{"A":-1.7,"O":-2.0,"G":2.3,"B":2.0,"C":0.9},
{"A":-2.5,"O":-2.6,"G":2.0,"B":2.9,"C":1.15},
{"A":-3.2,"O":-2.7,"G":3.0,"B":3.4,"C":2.42},
{"A":-1.9,"O":-1.8,"G":2.6,"B":1.7,"C":1.55},
{"A":-2.6,"O":-2.2,"G":1.8,"B":2.3,"C":1.13},
{"A":-1.4,"O":-2.4,"G":3.1,"B":2.2,"C":2.37},
{"A":-3.0,"O":-2.1,"G":2.5,"B":2.6,"C":0.48},
{"A":-2.0,"O":-2.7,"G":2.2,"B":1.5,"C":2.27},
{"A":-2.4,"O":-1.6,"G":1.4,"B":2.1,"C":0.54},
{"A":-1.2,"O":-1.9,"G":2.7,"B":1.4,"C":1.32},
{"A":-3.5,"O":-2.6,"G":3.4,"B":2.9,"C":2.91},
{"A":-2.7,"O":-2.4,"G":2.1,"B":3.3,"C":1.9},
{"A":-1.6,"O":-2.6,"G":1.5,"B":1.8,"C":2.51},
{"A":-2.3,"O":-1.9,"G":3.5,"B":1.9,"C":0.82},
{"A":-3.1,"O":-2.3,"G":2.4,"B":2.2,"C":1.93},
{"A":-1.0,"O":-2.2,"G":1.9,"B":1.7,"C":1.99},
{"A":-2.8,"O":-2.7,"G":3.6,"B":3.5,"C":2.94},
{"A":-1.8,"O":-2.1,"G":1.2,"B":2.4,"C":0.77},
{"A":-2.1,"O":-2.5,"G":2.4,"B":2.8,"C":2.4},
{"A":-3.3,"O":-2.2,"G":1.6,"B":2.6,"C":1.36},
{"A":-1.5,"O":-1.7,"G":2.0,"B":1.2,"C":0.72},
{"A":-0.8,"O":-1.5,"G":2.3,"B":0.9,"C":0.93},
{"A":-2.6,"O":-2.7,"G":2.9,"B":2.0,"C":2.66},
{"A":-1.3,"O":-1.4,"G":3.0,"B":1.9,"C":0.38},
{"A":-3.7,"O":-2.4,"G":2.7,"B":3.2,"C":2.26},
{"A":-2.4,"O":-2.0,"G":1.0,"B":2.5,"C":0.41},
{"A":-1.1,"O":-2.5,"G":1.3,"B":1.0,"C":2.33},
{"A":-2.0,"O":-2.3,"G":3.2,"B":2.5,"C":2.6},
{"A":-0.5,"O":-2.0,"G":2.9,"B":1.2,"C":0.28},
{"A":-2.9,"O":-1.9,"G":2.2,"B":3.0,"C":0.79},
{"A":-1.7,"O":-2.7,"G":2.6,"B":2.3,"C":2.89},
{"A":-3.4,"O":-2.5,"G":2.1,"B":3.5,"C":1.62},
{"A":-0.9,"O":-1.9,"G":1.7,"B":0.7,"C":1.66},
{"A":-2.2,"O":-1.7,"G":2.8,"B":1.5,"C":0.52},
{"A":-3.0,"O":-2.7,"G":1.9,"B":3.0,"C":2.99},
{"A":-1.4,"O":-2.1,"G":1.1,"B":2.6,"C":1.36},
{"A":-2.5,"O":-2.4,"G":3.7,"B":2.4,"C":2.09},
{"A":-0.6,"O":-2.4,"G":2.0,"B":0.5,"C":2.39},
{"A":1.0,"O":-1.0,"G":1.5,"B":-1.0,"C":1.23},
{"A":0.6,"O":-0.5,"G":0.8,"B":-0.6,"C":0.66},
{"A":1.3,"O":-0.3,"G":0.4,"B":-1.3,"C":0.56},
{"A":0.8,"O":-1.3,"G":1.7,"B":-0.3,"C":1.77},
{"A":0.3,"O":-1.8,"G":2.4,"B":0.2,"C":1.27},
{"A":1.6,"O":-0.8,"G":0.2,"B":-1.6,"C":0.33},
{"A":0.0,"O":-2.4,"G":1.8,"B":0.4,"C":1.87},
{"A":0.9,"O":-0.1,"G":0.9,"B":-0.9,"C":-0.01},
{"A":-0.3,"O":-1.4,"G":1.3,"B":0.0,"C":0.68},
{"A":0.5,"O":-2.2,"G":3.0,"B":-0.5,"C":0.74},
{"A":1.9,"O":0.4,"G":-0.4,"B":-1.7,"C":-0.19},
{"A":1.4,"O":0.0,"G":0.6,"B":-0.7,"C":-0.3},
{"A":2.1,"O":0.9,"G":-0.9,"B":-1.5,"C":-0.92},
{"A":-0.6,"O":-2.7,"G":0.9,"B":0.8,"C":1.74},
{"A":0.4,"O":-1.0,"G":2.1,"B":-0.2,"C":-0.35},
{"A":-0.1,"O":-0.7,"G":1.6,"B":-0.4,"C":0.37},
{"A":1.1,"O":-0.6,"G":1.1,"B":-1.5,"C":0.41},
{"A":0.2,"O":-1.5,"G":0.3,"B":0.5,"C":0.63},
{"A":-0.4,"O":-1.9,"G":0.8,"B":1.1,"C":0.21},
{"A":0.7,"O":-2.0,"G":1.3,"B":0.3,"C":2.23},
{"A":-0.26,"O":-0.79,"G":1.61,"B":1.06,"C":0.62},
{"A":-1.41,"O":-1.0,"G":1.85,"B":1.43,"C":0.46},
{"A":-0.57,"O":-1.53,"G":2.38,"B":1.26,"C":1.21},
{"A":-1.27,"O":-1.27,"G":2.25,"B":0.59,"C":1.57},
{"A":-1.23,"O":-1.7,"G":2.15,"B":2.03,"C":1.36},
{"A":-2.0,"O":-1.6,"G":1.72,"B":1.9,"C":0.83},
{"A":-0.51,"O":-1.5,"G":2.22,"B":0.76,"C":1.71},
{"A":-0.59,"O":-1.28,"G":3.25,"B":0.59,"C":0.69},
{"A":-1.38,"O":-1.49,"G":3.28,"B":0.42,"C":1.44},
{"A":-0.53,"O":-1.47,"G":1.95,"B":1.13,"C":1.11},
{"A":-1.75,"O":-1.74,"G":1.32,"B":1.6,"C":1.47},
{"A":-1.1,"O":-1.74,"G":1.68,"B":2.07,"C":0.96},
{"A":-1.09,"O":-1.49,"G":1.58,"B":0.66,"C":2.07},
{"A":-2.09,"O":-2.21,"G":2.85,"B":1.43,"C":1.78},
{"A":-1.08,"O":-2.42,"G":3.41,"B":1.09,"C":2.4},
{"A":-2.09,"O":-2.07,"G":2.58,"B":1.8,"C":1.19},
{"A":-1.18,"O":-2.08,"G":1.42,"B":1.87,"C":1.68},
{"A":-2.0,"O":-1.82,"G":1.28,"B":2.34,"C":0.73},
{"A":-0.68,"O":-2.16,"G":2.55,"B":0.83,"C":1.76},
{"A":-1.33,"O":-1.96,"G":2.32,"B":0.46,"C":2.35},
{"A":0.27,"O":0.43,"G":-1.21,"B":1.02,"C":-0.73},
{"A":-0.82,"O":-0.22,"G":-1.15,"B":1.64,"C":-0.25},
{"A":-1.44,"O":-0.9,"G":-1.21,"B":2.16,"C":0.59},
{"A":-0.27,"O":-0.7,"G":-1.01,"B":1.17,"C":1.14},
{"A":0.81,"O":0.65,"G":-1.25,"B":0.42,"C":-0.75},
{"A":1.51,"O":1.47,"G":-1.25,"B":-0.15,"C":-1.63},
{"A":1.1,"O":0.58,"G":-1.28,"B":-0.74,"C":0.55},
{"A":-0.04,"O":0.09,"G":-1.17,"B":-0.09,"C":1.05},
{"A":0.77,"O":1.9,"G":-1.19,"B":-1.81,"C":-1.6},
{"A":2.2,"O":1.53,"G":-0.85,"B":-1.56,"C":-1.4},
{"A":0.13,"O":1.58,"G":-0.06,"B":-1.34,"C":-1.23},
{"A":1.93,"O":1.34,"G":-1.03,"B":-1.69,"C":-1.06},
{"A":-0.4,"O":0.83,"G":0.38,"B":-1.01,"C":-0.54},
{"A":0.98,"O":1.59,"G":-0.72,"B":-1.46,"C":-0.45},
{"A":1.15,"O":-0.1,"G":1.13,"B":-0.82,"C":0.05},
{"A":0.27,"O":0.97,"G":-0.46,"B":-1.26,"C":0.15},
{"A":1.86,"O":0.75,"G":-0.63,"B":-1.77,"C":-0.25},
{"A":0.88,"O":0.87,"G":-0.42,"B":-1.61,"C":0.32},
{"A":1.67,"O":0.29,"G":-0.24,"B":-1.1,"C":0.71},
{"A":0.06,"O":0.54,"G":-0.14,"B":-1.4,"C":0.92},
{"A":1.66,"O":1.57,"G":0.03,"B":-1.65,"C":-1.47},
{"A":1.17,"O":0.58,"G":0.65,"B":-1.18,"C":-0.67},
{"A":1.39,"O":1.18,"G":0.28,"B":-0.71,"C":-0.75},
{"A":-0.32,"O":0.28,"G":0.95,"B":-0.58,"C":0.23},
{"A":1.12,"O":0.32,"G":1.35,"B":-0.28,"C":-0.42},
{"A":0.67,"O":-0.22,"G":1.0,"B":-0.92,"C":0.41},
{"A":0.82,"O":0.88,"G":-1.08,"B":-1.73,"C":1.11},
{"A":0.61,"O":1.92,"G":-1.24,"B":-1.85,"C":-1.19},
{"A":1.92,"O":1.41,"G":-1.08,"B":-1.16,"C":-1.53},
{"A":0.6,"O":1.47,"G":-0.79,"B":-0.94,"C":-0.93},
{"A":1.8,"O":0.79,"G":0.04,"B":-0.69,"C":-0.73},
{"A":0.14,"O":0.25,"G":-0.12,"B":-0.44,"C":-0.1},
{"A":1.48,"O":1.26,"G":-0.47,"B":-1.08,"C":-0.59},
{"A":-0.15,"O":0.82,"G":-0.64,"B":-0.83,"C":0.04},
{"A":0.92,"O":0.25,"G":0.65,"B":-0.61,"C":0.21},
{"A":1.32,"O":0.97,"G":-1.13,"B":-1.2,"C":0.19},
{"A":-0.47,"O":-0.41,"G":0.5,"B":-0.35,"C":0.85},
{"A":1.1,"O":0.42,"G":-0.56,"B":-0.77,"C":0.97},
{"A":1.08,"O":0.67,"G":0.63,"B":-0.25,"C":-0.83},
{"A":0.61,"O":-0.26,"G":1.65,"B":0.14,"C":-0.09},
{"A":-0.16,"O":1.08,"G":-0.24,"B":-0.53,"C":-1.05},
{"A":1.74,"O":1.08,"G":0.15,"B":-0.99,"C":-0.52},
{"A":-0.32,"O":0.34,"G":0.95,"B":-1.04,"C":1.2},
{"A":1.68,"O":1.77,"G":-1.19,"B":-1.24,"C":-1.16},
{"A":0.5,"O":-0.08,"G":0.85,"B":0.29,"C":0.46},
{"A":0.32,"O":0.99,"G":0.28,"B":-0.89,"C":-1.33},
{"A":0.81,"O":-0.12,"G":-0.03,"B":-1.12,"C":1.58},
{"A":1.58,"O":1.24,"G":-0.56,"B":-0.2,"C":-1.23},
{"A":0.4,"O":1.09,"G":-0.92,"B":-0.47,"C":-1.0},
{"A":0.57,"O":0.27,"G":0.5,"B":0.22,"C":-0.47},
{"A":-0.4,"O":0.64,"G":-0.35,"B":-0.04,"C":-0.23},
{"A":1.47,"O":1.2,"G":-0.63,"B":-0.63,"C":-0.69},
{"A":0.73,"O":0.37,"G":-0.22,"B":-0.32,"C":-0.01},
{"A":-0.8,"O":-0.7,"G":1.28,"B":0.43,"C":0.57},
{"A":0.94,"O":0.69,"G":-0.85,"B":-0.42,"C":0.36},
{"A":0.94,"O":-0.2,"G":0.26,"B":0.04,"C":0.71},
{"A":-0.35,"O":-0.25,"G":0.36,"B":-0.26,"C":0.92},
{"A":0.49,"O":0.0,"G":1.15,"B":0.71,"C":-0.53},
{"A":-0.67,"O":0.29,"G":0.54,"B":-0.12,"C":-0.73},
{"A":0.39,"O":0.14,"G":0.45,"B":0.56,"C":0.23},
{"A":0.68,"O":-0.24,"G":-0.29,"B":-0.37,"C":1.27},
{"A":1.12,"O":0.93,"G":-1.03,"B":-0.55,"C":-0.18},
{"A":1.55,"O":1.78,"G":-1.24,"B":-0.71,"C":-1.63},
{"A":-0.06,"O":-0.47,"G":1.61,"B":1.06,"C":0.18},
{"A":0.94,"O":0.75,"G":0.69,"B":0.36,"C":-1.19},
{"A":0.36,"O":-0.72,"G":1.13,"B":0.32,"C":0.93},
{"A":0.59,"O":-0.71,"G":1.82,"B":0.77,"C":0.54},
{"A":1.05,"O":1.07,"G":-0.72,"B":0.25,"C":-1.33},
{"A":0.33,"O":0.3,"G":-0.12,"B":0.7,"C":-0.54},
{"A":0.23,"O":0.99,"G":-0.63,"B":-0.02,"C":-1.09},
{"A":1.09,"O":0.82,"G":-0.97,"B":0.06,"C":-0.59},
{"A":-0.7,"O":0.02,"G":0.15,"B":0.53,"C":-0.23},
{"A":0.7,"O":0.41,"G":-0.85,"B":0.15,"C":-0.08},
{"A":-0.17,"O":-0.46,"G":0.63,"B":0.89,"C":0.49},
{"A":-0.76,"O":-0.03,"G":-0.56,"B":0.37,"C":0.53},
{"A":0.76,"O":0.07,"G":-0.03,"B":0.02,"C":0.26},
{"A":-0.23,"O":-0.71,"G":0.38,"B":0.7,"C":1.22},
{"A":0.36,"O":-0.24,"G":0.95,"B":1.13,"C":-0.65},
{"A":-0.33,"O":-0.33,"G":0.18,"B":0.31,"C":-0.84},
{"A":-0.54,"O":-1.1,"G":1.85,"B":1.43,"C":0.46},
{"A":-0.19,"O":-0.21,"G":0.88,"B":-0.1,"C":0.15},
{"A":0.29,"O":0.07,"G":-0.35,"B":1.28,"C":-0.09},
{"A":0.76,"O":-0.08,"G":1.02,"B":1.75,"C":0.77},
{"A":-1.06,"O":-0.89,"G":0.78,"B":1.0,"C":1.01},
{"A":0.94,"O":0.94,"G":-0.92,"B":0.67,"C":-1.44},
{"A":0.03,"O":0.14,"G":0.04,"B":1.02,"C":-0.73},
{"A":-0.24,"O":0.66,"G":-1.13,"B":0.51,"C":-0.69},
{"A":-0.08,"O":-0.52,"G":0.5,"B":1.36,"C":-0.03},
{"A":-0.39,"O":0.13,"G":-0.72,"B":0.82,"C":-0.01},
{"A":-0.48,"O":-1.3,"G":1.45,"B":1.7,"C":0.67},
{"A":-0.95,"O":-0.6,"G":0.15,"B":1.1,"C":0.65},
{"A":0.42,"O":-0.22,"G":-0.97,"B":0.63,"C":0.73},
{"A":-0.14,"O":-0.3,"G":1.13,"B":1.46,"C":-0.83},
{"A":-0.84,"O":-0.9,"G":2.2,"B":2.2,"C":0.18},
{"A":0.51,"O":0.77,"G":-1.08,"B":1.12,"C":-1.53},
{"A":-0.18,"O":-0.01,"G":-0.14,"B":1.45,"C":-0.84},
{"A":-0.13,"O":-0.4,"G":-0.24,"B":1.75,"C":-0.17},
{"A":-1.0,"O":-1.25,"G":0.54,"B":1.29,"C":-0.08},
{"A":-0.84,"O":-1.46,"G":2.15,"B":2.14,"C":1.01},
{"A":-1.31,"O":-1.25,"G":0.54,"B":1.59,"C":1.03},
{"A":-0.25,"O":-0.09,"G":0.94,"B":0.94,"C":1.41},
{"A":-1.72,"O":-2.56,"G":2.85,"B":2.57,"C":1.34},
{"A":-0.5,"O":-0.4,"G":-0.29,"B":1.91,"C":-0.49},
{"A":-0.87,"O":-1.44,"G":0.88,"B":2.41,"C":0.34},
{"A":-1.9,"O":-1.68,"G":0.94,"B":2.08,"C":0.97},
{"A":-1.04,"O":-1.4,"G":0.28,"B":2.53,"C":0.43},
{"A":-2.52,"O":-2.7,"G":1.5,"B":3.07,"C":1.73},
{"A":-1.46,"O":-2.52,"G":1.54,"B":2.16,"C":1.91},
{"A":-2.41,"O":-2.57,"G":1.45,"B":2.27,"C":2.43},
{"A":-0.72,"O":-2.1,"G":1.38,"B":1.27,"C":2.54},
{"A":-1.77,"O":-2.28,"G":2.15,"B":1.28,"C":2.55},
{"A":-0.65,"O":-2.02,"G":2.61,"B":1.06,"C":2.38},
{"A":-2.2,"O":-2.07,"G":3.38,"B":1.83,"C":1.21},
{"A":-1.26,"O":-2.13,"G":3.21,"B":1.51,"C":1.84},
{"A":-2.21,"O":-1.98,"G":3.55,"B":1.19,"C":1.6},
{"A":-0.97,"O":-2.19,"G":2.45,"B":1.7,"C":1.55},
{"A":-2.43,"O":-2.31,"G":2.28,"B":2.71,"C":1.01},
{"A":-1.74,"O":-2.32,"G":1.15,"B":1.67,"C":2.41},
{"A":-1.11,"O":-1.53,"G":0.94,"B":2.65,"C":0.09},
{"A":-1.37,"O":-2.06,"G":3.35,"B":2.0,"C":0.46},
{"A":-1.57,"O":-2.28,"G":2.45,"B":0.56,"C":2.87},
{"A":-2.25,"O":-2.19,"G":2.61,"B":1.63,"C":1.94},
{"A":-2.53,"O":-2.75,"G":1.65,"B":2.99,"C":2.11},
{"A":-2.63,"O":-2.7,"G":1.21,"B":2.48,"C":1.71},
{"A":-1.93,"O":-2.37,"G":2.5,"B":1.93,"C":1.29},
{"A":-2.9,"O":-2.75,"G":3.61,"B":2.2,"C":2.82},
{"A":-2.71,"O":-2.75,"G":2.13,"B":2.6,"C":2.69},
{"A":0.21,"O":-1.4,"G":1.65,"B":0.71,"C":1.23},
{"A":0.14,"O":-1.42,"G":1.45,"B":1.13,"C":1.0},
{"A":0.19,"O":-1.69,"G":1.85,"B":0.29,"C":1.78},
{"A":0.12,"O":-1.51,"G":2.15,"B":0.71,"C":0.79},
{"A":0.3,"O":-1.61,"G":2.61,"B":-0.08,"C":1.5},
{"A":0.05,"O":-1.45,"G":1.28,"B":1.57,"C":0.13},
{"A":0.2,"O":-1.52,"G":2.45,"B":-0.01,"C":1.11},
{"A":0.25,"O":-1.53,"G":1.5,"B":0.79,"C":0.85},
{"A":0.12,"O":-1.77,"G":1.78,"B":0.43,"C":1.45},
{"A":-0.29,"O":-1.66,"G":0.88,"B":1.84,"C":0.34},
{"A":-0.08,"O":-1.65,"G":0.88,"B":0.7,"C":1.66},
{"A":-0.18,"O":-1.78,"G":1.13,"B":1.46,"C":0.93},
{"A":0.09,"O":-1.76,"G":2.85,"B":0.86,"C":0.46},
{"A":0.06,"O":-1.89,"G":2.15,"B":0.14,"C":2.11},
{"A":-0.2,"O":-1.97,"G":2.13,"B":0.89,"C":1.37},
{"A":-0.3,"O":-2.0,"G":1.5,"B":1.93,"C":0.85},
{"A":-0.17,"O":-2.14,"G":1.95,"B":0.56,"C":2.43},
{"A":-0.39,"O":-2.3,"G":2.65,"B":1.85,"C":0.79},
{"A":0.0,"O":-2.17,"G":1.28,"B":1.0,"C":2.33},
{"A":0.14,"O":-2.27,"G":3.35,"B":0.29,"C":1.78},
{"A":-0.42,"O":-2.35,"G":1.63,"B":1.46,"C":1.81},
{"A":-0.34,"O":-2.49,"G":2.65,"B":0.71,"C":2.11},
{"A":-0.54,"O":-2.46,"G":1.95,"B":2.27,"C":1.55},
{"A":0.15,"O":-2.21,"G":1.5,"B":0.79,"C":2.61},
{"A":-0.85,"O":-2.3,"G":1.95,"B":2.84,"C":0.67},
{"A":-3.3,"O":-1.8,"G":2.9,"B":2.3,"C":1.13},
{"A":-2.8,"O":-1.4,"G":2.2,"B":1.9,"C":0.38},
{"A":-3.6,"O":-2.1,"G":3.3,"B":2.7,"C":2.32},
{"A":-2.3,"O":-1.2,"G":1.8,"B":1.5,"C":0.52},
{"A":-3.0,"O":-1.6,"G":3.6,"B":2.0,"C":0.46},
{"A":-4.0,"O":-2.2,"G":3.7,"B":3.0,"C":2.99},
{"A":-3.9,"O":-2.45,"G":2.8,"B":3.3,"C":2.34},
{"A":-3.4,"O":-2.0,"G":3.8,"B":2.6,"C":3.12},
{"A":-2.6,"O":-2.3,"G":3.75,"B":2.0,"C":1.78},
{"A":-2.0,"O":-1.5,"G":3.5,"B":2.3,"C":0.69},
{"A":-1.6,"O":-1.9,"G":3.65,"B":2.8,"C":1.52},
{"A":-3.7,"O":-2.7,"G":3.25,"B":3.6,"C":2.57},
{"A":-2.2,"O":-2.75,"G":3.75,"B":3.3,"C":3.22},
{"A":-4.2,"O":-2.55,"G":3.6,"B":3.4,"C":3.3},
{"A":-3.8,"O":-2.1,"G":1.5,"B":2.2,"C":0.17},
{"A":1.8,"O":-0.3,"G":0.9,"B":-1.3,"C":0.12},
{"A":2.2,"O":0.2,"G":0.3,"B":-1.6,"C":0.33},
{"A":1.6,"O":-0.9,"G":1.2,"B":-0.9,"C":1.31},
{"A":2.0,"O":-0.5,"G":-0.2,"B":-1.8,"C":1.05},
{"A":1.4,"O":-1.3,"G":1.8,"B":-0.6,"C":1.54},
{"A":2.25,"O":0.5,"G":-0.5,"B":-1.1,"C":-0.17},
{"A":1.2,"O":-0.2,"G":0.1,"B":-0.2,"C":0.09},
{"A":1.7,"O":0.6,"G":-0.7,"B":-0.5,"C":-0.59},
{"A":1.0,"O":-1.6,"G":2.3,"B":-1.2,"C":1.08},
{"A":2.1,"O":1.3,"G":-1.0,"B":-0.9,"C":-1.33},
{"A":1.32,"O":1.38,"G":-0.12,"B":-1.01,"C":-0.98},
{"A":0.98,"O":0.67,"G":0.28,"B":-0.14,"C":-0.31},
{"A":0.97,"O":0.63,"G":0.78,"B":-0.71,"C":-0.31},
{"A":0.34,"O":0.15,"G":0.5,"B":0.22,"C":-0.03},
{"A":0.93,"O":0.76,"G":0.45,"B":-0.01,"C":-0.65},
{"A":1.17,"O":0.36,"G":0.65,"B":-0.43,"C":0.35},
{"A":-0.21,"O":0.37,"G":-0.47,"B":0.06,"C":-0.15},
{"A":0.42,"O":-0.08,"G":0.38,"B":0.13,"C":0.34},
{"A":0.75,"O":0.29,"G":0.26,"B":-0.53,"C":0.27},
{"A":0.32,"O":0.09,"G":0.0,"B":0.79,"C":-0.03},
{"A":0.45,"O":0.27,"G":-0.58,"B":0.55,"C":-0.21},
{"A":-0.07,"O":-0.39,"G":-0.46,"B":1.02,"C":0.59},
{"A":-0.11,"O":-0.41,"G":-0.35,"B":1.29,"C":0.36},
{"A":0.29,"O":-0.26,"G":-0.22,"B":0.25,"C":0.87},
{"A":0.38,"O":-0.52,"G":0.38,"B":0.13,"C":1.22},
{"A":0.61,"O":0.58,"G":-0.58,"B":-1.16,"C":0.67},
{"A":0.99,"O":0.37,"G":-0.24,"B":-1.1,"C":1.15},
{"A":0.34,"O":0.08,"G":0.04,"B":-1.26,"C":1.47},
{"A":0.81,"O":-0.23,"G":-0.22,"B":-0.89,"C":1.75},
{"A":0.28,"O":-0.25,"G":0.0,"B":-0.92,"C":2.17},
{"A":0.07,"O":0.4,"G":0.08,"B":-0.47,"C":-0.12},
{"A":0.64,"O":0.22,"G":0.36,"B":0.31,"C":-0.4},
{"A":-0.21,"O":-0.17,"G":0.54,"B":-0.12,"C":0.59},
{"A":0.01,"O":-0.71,"G":0.88,"B":0.7,"C":0.78},
{"A":0.02,"O":-0.49,"G":1.13,"B":0.32,"C":0.49},
{"A":0.83,"O":0.02,"G":0.86,"B":-0.83,"C":0.48},
{"A":0.1,"O":-0.22,"G":0.71,"B":0.2,"C":-0.05},
{"A":-0.55,"O":-0.29,"G":0.08,"B":0.67,"C":0.32},
{"A":0.54,"O":-0.12,"G":1.26,"B":0.04,"C":-0.17},
{"A":-0.72,"O":-0.24,"G":0.04,"B":0.45,"C":0.59},
{"A":0.53,"O":-0.34,"G":1.5,"B":-0.35,"C":0.41},
{"A":-0.19,"O":-0.53,"G":1.04,"B":1.02,"C":-0.29},
{"A":-0.92,"O":-0.89,"G":1.28,"B":1.0,"C":0.57},
{"A":0.28,"O":-0.83,"G":1.0,"B":0.22,"C":1.29},
{"A":-0.62,"O":-1.1,"G":1.38,"B":1.27,"C":0.34},
{"A":0.21,"O":-0.36,"G":1.95,"B":-0.01,"C":0.23},
{"A":-0.73,"O":-0.19,"G":1.26,"B":0.61,"C":-0.61},
{"A":-0.03,"O":-0.72,"G":0.95,"B":0.56,"C":1.11},
{"A":-0.38,"O":-0.37,"G":0.04,"B":1.59,"C":-0.29},
{"A":-0.74,"O":-0.71,"G":0.21,"B":0.77,"C":0.83}
]
},
"columns": 5,
"bounds": "flush",
"spacing": {"row": 18.3, "column": 18.5},
"concat": [
{"width":228,"height":118,"data":{"values":[{"label":"RelativeAcuity"}]},"layer":[{"mark":{"type":"point","opacity":0},"encoding":{"x":{"field":"label","type":"nominal","axis":null}}},{"mark":{"type":"text","fontSize":30,"font":"Liberation Sans","color":"#000","baseline":"middle","align":"center"},"encoding":{"text":{"field":"label"}}}]},
{"width":228,"height":118,"layer":[
 {"data":{"name":"pts"},"mark":{"type":"point","opacity":0},"encoding":{"x":{"field":"O","type":"quantitative","scale":{"domain":[-3.1,2.11],"nice":false,"zero":false},"axis":{"orient":"top","title":null,"values":[-3,-2,-1,0,1,2],"labelPadding":11,"labelExpr":"(datum.value < 0 ? '-' : '') + abs(datum.value)"}}}},
 {"data":{"values":[{"label":"0.66"}]},"mark":{"type":"text","fontSize":37,"font":"Liberation Sans","color":"#000","baseline":"middle","align":"center"},"encoding":{"text":{"field":"label"}}}]},
{"width":228,"height":118,"data":{"values":[{"label":"-0.60"}]},"layer":[{"mark":{"type":"point","opacity":0},"encoding":{"x":{"field":"label","type":"nominal","axis":null}}},{"mark":{"type":"text","fontSize":37,"font":"Liberation Sans","color":"#000","baseline":"middle","align":"center"},"encoding":{"text":{"field":"label"}}}]},
{"width":228,"height":118,"layer":[
 {"data":{"name":"pts"},"mark":{"type":"point","opacity":0},"encoding":{"x":{"field":"B","type":"quantitative","scale":{"domain":[-2.78,3.88],"nice":false,"zero":false},"axis":{"orient":"top","title":null,"values":[-2,-1,0,1,2,3],"labelPadding":11,"labelExpr":"(datum.value < 0 ? '-' : '') + abs(datum.value)"}}}},
 {"data":{"values":[{"label":"-0.73"}]},"mark":{"type":"text","fontSize":37,"font":"Liberation Sans","color":"#000","baseline":"middle","align":"center"},"encoding":{"text":{"field":"label"}}}]},
{"width":228,"height":118,"layer":[
 {"data":{"name":"pts"},"mark":{"type":"point","opacity":0},"encoding":{"y":{"field":"A","type":"quantitative","scale":{"domain":[-4.55,2.55],"nice":false,"zero":false},"axis":{"orient":"right","title":null,"values":[-4,-3,-2,-1,0,1,2],"labelAngle":270,"labelAlign":"center","labelBaseline":"top","labelPadding":13.5,"labelExpr":"datum.value % 2 == 0 ? (datum.value < 0 ? '-' : '') + abs(datum.value) : ''"}}}},
 {"data":{"values":[{"label":"-0.45"}]},"mark":{"type":"text","fontSize":37,"font":"Liberation Sans","color":"#000","baseline":"middle","align":"center"},"encoding":{"text":{"field":"label"}}}]},

{"width":228,"height":118,"data":{"name":"pts"},"mark":{"type":"circle","size":66,"color":"#000","opacity":1},"encoding":{
 "x":{"field":"A","type":"quantitative","scale":{"domain":[-4.55,2.55],"nice":false,"zero":false},"axis":null},
 "y":{"field":"O","type":"quantitative","scale":{"domain":[-3.1,2.11],"nice":false,"zero":false},"axis":{"orient":"left","title":null,"values":[-3,-2,-1,0,1,2],"labelAngle":270,"labelAlign":"center","labelBaseline":"bottom","labelPadding":10,"labelExpr":"datum.value == 0 || datum.value == -2 ? '' : (datum.value < 0 ? '-' : '') + abs(datum.value)"}}}},
{"width":228,"height":118,"data":{"values":[{"label":"Overall"}]},"layer":[{"mark":{"type":"point","opacity":0},"encoding":{"x":{"field":"label","type":"nominal","axis":null}}},{"mark":{"type":"text","fontSize":30,"font":"Liberation Sans","color":"#000","baseline":"middle","align":"center"},"encoding":{"text":{"field":"label"}}}]},
{"width":228,"height":118,"data":{"values":[{"label":"-0.68"}]},"layer":[{"mark":{"type":"point","opacity":0},"encoding":{"x":{"field":"label","type":"nominal","axis":null}}},{"mark":{"type":"text","fontSize":37,"font":"Liberation Sans","color":"#000","baseline":"middle","align":"center"},"encoding":{"text":{"field":"label"}}}]},
{"width":228,"height":118,"data":{"values":[{"label":"-0.76"}]},"layer":[{"mark":{"type":"point","opacity":0},"encoding":{"x":{"field":"label","type":"nominal","axis":null}}},{"mark":{"type":"text","fontSize":37,"font":"Liberation Sans","color":"#000","baseline":"middle","align":"center"},"encoding":{"text":{"field":"label"}}}]},
{"width":228,"height":118,"data":{"values":[{"label":"-0.76"}]},"layer":[{"mark":{"type":"point","opacity":0},"encoding":{"x":{"field":"label","type":"nominal","axis":null}}},{"mark":{"type":"text","fontSize":37,"font":"Liberation Sans","color":"#000","baseline":"middle","align":"center"},"encoding":{"text":{"field":"label"}}}]},

{"width":228,"height":118,"data":{"name":"pts"},"mark":{"type":"circle","size":66,"color":"#000","opacity":1},"encoding":{
 "x":{"field":"A","type":"quantitative","scale":{"domain":[-4.55,2.55],"nice":false,"zero":false},"axis":null},
 "y":{"field":"G","type":"quantitative","scale":{"domain":[-1.95,4.05],"nice":false,"zero":false},"axis":null}}},
{"width":228,"height":118,"data":{"name":"pts"},"mark":{"type":"circle","size":66,"color":"#000","opacity":1},"encoding":{
 "x":{"field":"O","type":"quantitative","scale":{"domain":[-3.1,2.11],"nice":false,"zero":false},"axis":null},
 "y":{"field":"G","type":"quantitative","scale":{"domain":[-1.95,4.05],"nice":false,"zero":false},"axis":null}}},
{"width":228,"height":118,"data":{"values":[{"label":"Ghosting"}]},"layer":[{"mark":{"type":"point","opacity":0},"encoding":{"x":{"field":"label","type":"nominal","axis":null}}},{"mark":{"type":"text","fontSize":30,"font":"Liberation Sans","color":"#000","baseline":"middle","align":"center"},"encoding":{"text":{"field":"label"}}}]},
{"width":228,"height":118,"data":{"values":[{"label":"0.59"}]},"layer":[{"mark":{"type":"point","opacity":0},"encoding":{"x":{"field":"label","type":"nominal","axis":null}}},{"mark":{"type":"text","fontSize":37,"font":"Liberation Sans","color":"#000","baseline":"middle","align":"center"},"encoding":{"text":{"field":"label"}}}]},
{"width":228,"height":118,"layer":[
 {"data":{"name":"pts"},"mark":{"type":"point","opacity":0},"encoding":{"y":{"field":"G","type":"quantitative","scale":{"domain":[-1.95,4.05],"nice":false,"zero":false},"axis":{"orient":"right","title":null,"values":[-1,0,1,2,3,4],"labelAngle":270,"labelAlign":"center","labelBaseline":"top","labelPadding":13.5,"labelExpr":"abs(datum.value) % 2 == 1 ? (datum.value < 0 ? '-' : '') + abs(datum.value) : ''"}}}},
 {"data":{"values":[{"label":"0.52"}]},"mark":{"type":"text","fontSize":37,"font":"Liberation Sans","color":"#000","baseline":"middle","align":"center"},"encoding":{"text":{"field":"label"}}}]},

{"width":228,"height":118,"data":{"name":"pts"},"mark":{"type":"circle","size":66,"color":"#000","opacity":1},"encoding":{
 "x":{"field":"A","type":"quantitative","scale":{"domain":[-4.55,2.55],"nice":false,"zero":false},"axis":null},
 "y":{"field":"B","type":"quantitative","scale":{"domain":[-2.78,3.88],"nice":false,"zero":false},"axis":{"orient":"left","title":null,"values":[-2,-1,0,1,2,3],"labelAngle":270,"labelAlign":"center","labelBaseline":"bottom","labelPadding":10,"labelExpr":"datum.value % 2 == 0 ? (datum.value < 0 ? '-' : '') + abs(datum.value) : ''"}}}},
{"width":228,"height":118,"data":{"name":"pts"},"mark":{"type":"circle","size":66,"color":"#000","opacity":1},"encoding":{
 "x":{"field":"O","type":"quantitative","scale":{"domain":[-3.1,2.11],"nice":false,"zero":false},"axis":null},
 "y":{"field":"B","type":"quantitative","scale":{"domain":[-2.78,3.88],"nice":false,"zero":false},"axis":null}}},
{"width":228,"height":118,"data":{"name":"pts"},"mark":{"type":"circle","size":66,"color":"#000","opacity":1},"encoding":{
 "x":{"field":"G","type":"quantitative","scale":{"domain":[-1.95,4.05],"nice":false,"zero":false},"axis":null},
 "y":{"field":"B","type":"quantitative","scale":{"domain":[-2.78,3.88],"nice":false,"zero":false},"axis":null}}},
{"width":228,"height":118,"data":{"values":[{"label":"Blur"}]},"layer":[{"mark":{"type":"point","opacity":0},"encoding":{"x":{"field":"label","type":"nominal","axis":null}}},{"mark":{"type":"text","fontSize":30,"font":"Liberation Sans","color":"#000","baseline":"middle","align":"center"},"encoding":{"text":{"field":"label"}}}]},
{"width":228,"height":118,"data":{"values":[{"label":"0.52"}]},"layer":[{"mark":{"type":"point","opacity":0},"encoding":{"x":{"field":"label","type":"nominal","axis":null}}},{"mark":{"type":"text","fontSize":37,"font":"Liberation Sans","color":"#000","baseline":"middle","align":"center"},"encoding":{"text":{"field":"label"}}}]},

{"width":228,"height":118,"data":{"name":"pts"},"mark":{"type":"circle","size":66,"color":"#000","opacity":1},"encoding":{
 "x":{"field":"A","type":"quantitative","scale":{"domain":[-4.55,2.55],"nice":false,"zero":false},"axis":{"orient":"bottom","title":null,"values":[-4,-3,-2,-1,0,1,2],"labelPadding":13,"labelExpr":"(datum.value < 0 ? '-' : '') + abs(datum.value)"}},
 "y":{"field":"C","type":"quantitative","scale":{"domain":[-2.49,3.66],"nice":false,"zero":false},"axis":null}}},
{"width":228,"height":118,"data":{"name":"pts"},"mark":{"type":"circle","size":66,"color":"#000","opacity":1},"encoding":{
 "x":{"field":"O","type":"quantitative","scale":{"domain":[-3.1,2.11],"nice":false,"zero":false},"axis":null},
 "y":{"field":"C","type":"quantitative","scale":{"domain":[-2.49,3.66],"nice":false,"zero":false},"axis":null}}},
{"width":228,"height":118,"data":{"name":"pts"},"mark":{"type":"circle","size":66,"color":"#000","opacity":1},"encoding":{
 "x":{"field":"G","type":"quantitative","scale":{"domain":[-1.95,4.05],"nice":false,"zero":false},"axis":{"orient":"bottom","title":null,"values":[-1,0,1,2,3,4],"labelPadding":13,"labelExpr":"(datum.value < 0 ? '-' : '') + abs(datum.value)"}},
 "y":{"field":"C","type":"quantitative","scale":{"domain":[-2.49,3.66],"nice":false,"zero":false},"axis":null}}},
{"width":228,"height":118,"data":{"name":"pts"},"mark":{"type":"circle","size":66,"color":"#000","opacity":1},"encoding":{
 "x":{"field":"B","type":"quantitative","scale":{"domain":[-2.78,3.88],"nice":false,"zero":false},"axis":null},
 "y":{"field":"C","type":"quantitative","scale":{"domain":[-2.49,3.66],"nice":false,"zero":false},"axis":null}}},
{"width":228,"height":118,"layer":[
 {"data":{"name":"pts"},"mark":{"type":"point","opacity":0},"encoding":{
  "x":{"field":"C","type":"quantitative","scale":{"domain":[-2.49,3.66],"nice":false,"zero":false},"axis":{"orient":"bottom","title":null,"values":[-2,-1,0,1,2,3],"labelPadding":13,"labelExpr":"(datum.value < 0 ? '-' : '') + abs(datum.value)"}},
  "y":{"field":"C","type":"quantitative","scale":{"domain":[-2.49,3.66],"nice":false,"zero":false},"axis":{"orient":"right","title":null,"values":[-2,-1,0,1,2,3],"labelAngle":270,"labelAlign":"center","labelBaseline":"top","labelPadding":13.5,"labelExpr":"datum.value % 2 == 0 ? (datum.value < 0 ? '-' : '') + abs(datum.value) : ''"}}}},
 {"data":{"values":[{"label":"Contrast"}]},"mark":{"type":"text","fontSize":30,"font":"Liberation Sans","color":"#000","baseline":"middle","align":"center"},"encoding":{"text":{"field":"label"}}}]}
]
}
